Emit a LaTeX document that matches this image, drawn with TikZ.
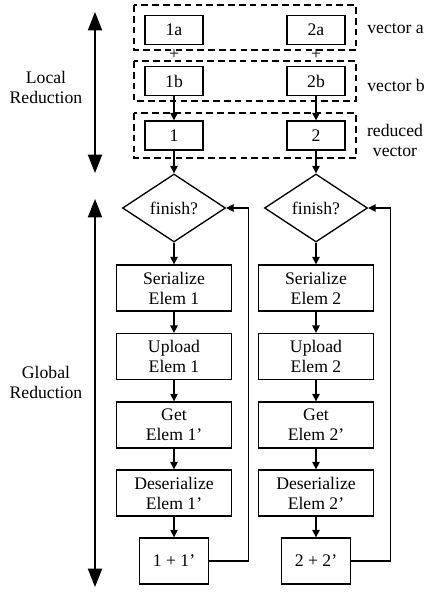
\documentclass[tikz,border=0pt]{standalone}
\usepackage{fontspec}
\setmainfont{Liberation Serif}
\usetikzlibrary{arrows.meta,shapes.geometric}
\tikzset{
  every node/.style={font=\fontsize{10.6}{12}\selectfont},
  box/.style={draw,thick,minimum width=34.8pt,minimum height=17.4pt,inner sep=1pt},
  stepbox/.style={draw,thick,align=center,minimum width=69pt,minimum height=27.6pt,inner sep=1pt},
  sumbox/.style={stepbox,minimum width=41.4pt},
  test/.style={draw,thick,shape=diamond,aspect=1.5,inner sep=1pt,minimum width=61.8pt,minimum height=40.8pt},
  group/.style={draw,thick,dash pattern=on 4pt off 2.5pt},
  flow/.style={thick,-{Triangle[length=4.5pt,width=4.5pt]}},
  span/.style={thick,{Triangle[length=11pt,width=8.5pt]}-{Triangle[length=11pt,width=8.5pt]}},
}
\begin{document}
\begin{tikzpicture}[x=0.6pt,y=-0.6pt]
    \useasboundingbox (0,0) rectangle (427,592);
    % vector groups
    \draw[group] (134,5) rectangle (356,50);
    \draw[group] (134,61) rectangle (356,101);
    \draw[group] (134,113) rectangle (356,158);
    \node[anchor=west,inner sep=0] (laba) at (367,29) {vector a};
    \node[anchor=west,inner sep=0] (labb) at (367,85) {vector b};
    \node[align=center] (labr) at (395,140) {reduced\\vector};
    % phases
    \node[align=center] (local) at (46,87) {Local\\Reduction};
    \node[align=center] (global) at (46,382) {Global\\Reduction};
    \coordinate (lt) at (95,12);
    \coordinate (lb) at (95,173);
    \coordinate (gt) at (95,199);
    \coordinate (gb) at (95,587);
    \draw[span] (lt) -- (lb);
    \draw[span] (gt) -- (gb);
    \foreach \i/\x in {1/174,2/316}{
        \node[box] (a\i) at (\x,30) {\i a};
        \node[inner sep=0] (plus\i) at (\x,55) {+};
        \node[box] (b\i) at (\x,81) {\i b};
        \node[box] (r\i) at (\x,135.5) {\i};
        \node[test] (fin\i) at (\x,208) {finish?};
        \node[stepbox] (ser\i) at (\x,288) {Serialize\\Elem \i};
        \node[stepbox] (up\i) at (\x,356.5) {Upload\\Elem \i};
        \node[stepbox] (get\i) at (\x,425) {Get\\Elem \i'};
        \node[stepbox] (des\i) at (\x,493) {Deserialize\\Elem \i'};
        \node[sumbox] (sum\i) at (\x,561) {\i{} + \i'};
        \draw[flow] (b\i) -- (r\i);
        \draw[flow] (r\i) -- (fin\i);
        \draw[flow] (fin\i) -- (ser\i);
        \draw[flow] (ser\i) -- (up\i);
        \draw[flow] (up\i) -- (get\i);
        \draw[flow] (get\i) -- (des\i);
        \draw[flow] (des\i) -- (sum\i);
        \draw[flow] (sum\i.east) -- ++(39,0) |- (fin\i.east);
    }
\end{tikzpicture}
\end{document}
